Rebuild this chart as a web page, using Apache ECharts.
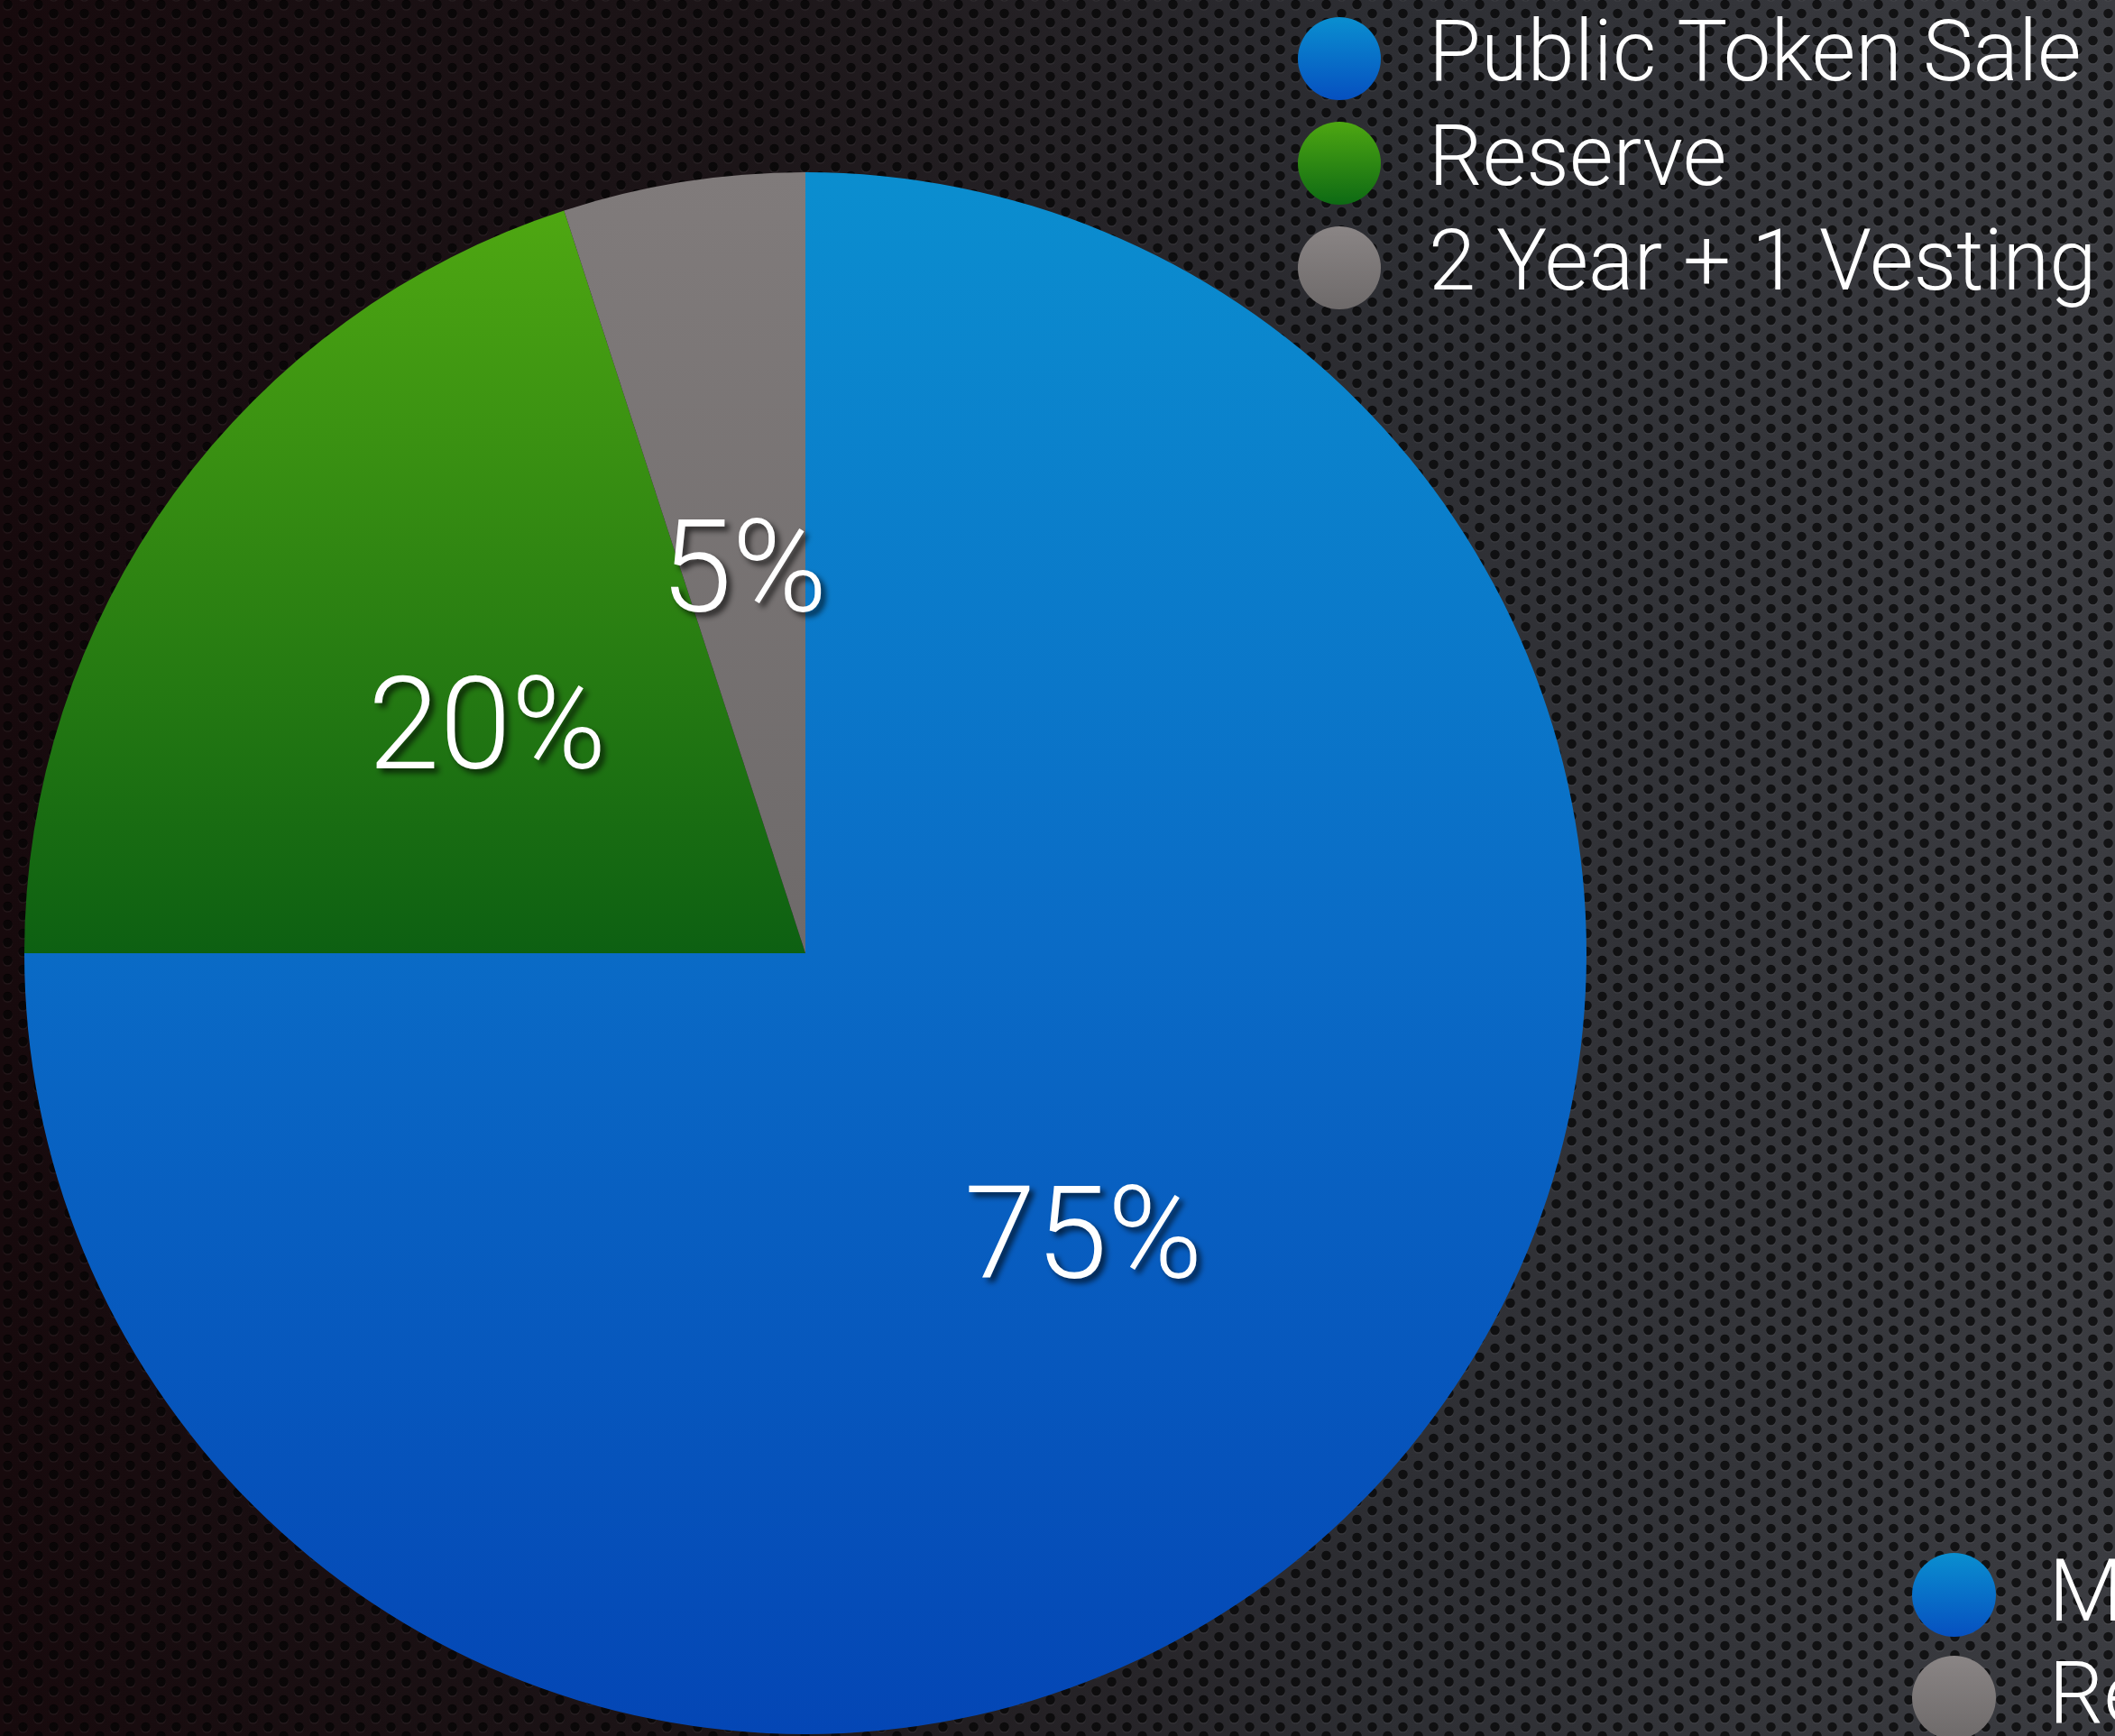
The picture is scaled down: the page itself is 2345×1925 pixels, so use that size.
<!DOCTYPE html>
<html>
<head>
<meta charset="utf-8">
<title>Token Distribution</title>
<script src="https://cdn.jsdelivr.net/npm/echarts@6/dist/echarts.min.js"></script>
<style>
    html, body { margin: 0; padding: 0; background: #0e0507; overflow: hidden; }
    #chart { width: 2345px; height: 1925px; }
</style>
</head>
<body>
<div id="chart"></div>
<script>
// Chart data
const categories = ['Public Token Sale', 'Reserve', '2 Year + 1 Vesting'];
const shares = [75, 20, 5];
// second legend, cut off by the right edge of the slide
const clippedLegend = ['M', 'Re'];

const FONT = 'Roboto, "Helvetica Neue", "Liberation Sans", sans-serif';

// slice fills (global, over the whole pie height)
function sliceFill(stops) {
    return {
        type: 'linear', x: 0, y: 191, x2: 0, y2: 1923, global: true,
        colorStops: stops.map(s => ({ offset: s[0], color: s[1] }))
    };
}
// small local gradient for the legend dots
function dotFill(top, bottom) {
    return {
        type: 'linear', x: 0, y: 0, x2: 0, y2: 1,
        colorStops: [{ offset: 0, color: top }, { offset: 1, color: bottom }]
    };
}

const sliceColors = [
    sliceFill([[0, '#0b8ecf'], [0.5, '#0a6bc6'], [1, '#0446b5']]),
    sliceFill([[0, '#52ab12'], [0.5, '#0d6012'], [1, '#04400a']]),
    sliceFill([[0, '#807b7b'], [0.5, '#6e6a6a'], [1, '#5c5858']])
];
const dotColors = [
    dotFill('#0a8fd0', '#0650c0'),
    dotFill('#4ea712', '#0d6a14'),
    dotFill('#8a8585', '#6e6a6a')
];

// Perforated metal texture
function makeHolePattern() {
    const c = document.createElement('canvas');
    c.width = 34;
    c.height = 20;
    const ctx = c.getContext('2d');
    const holes = [[8.5, 5], [25.5, 15]];
    holes.forEach(h => {
        [-34, 0, 34].forEach(dx => {
            [-20, 0, 20].forEach(dy => {
                ctx.beginPath();
                ctx.fillStyle = 'rgba(255,255,255,0.05)';
                ctx.arc(h[0] + dx, h[1] + dy + 1.2, 5.6, 0, Math.PI * 2);
                ctx.fill();
                ctx.beginPath();
                ctx.fillStyle = 'rgba(0,0,0,0.72)';
                ctx.arc(h[0] + dx, h[1] + dy, 5.3, 0, Math.PI * 2);
                ctx.fill();
            });
        });
    });
    return c;
}

const chart = echarts.init(document.getElementById('chart'));

const textShadow = {
    textShadowColor: 'rgba(0, 0, 0, 0.65)',
    textShadowBlur: 6,
    textShadowOffsetX: 5,
    textShadowOffsetY: 5
};

const option = {
    animation: false,
    backgroundColor: '#0e0507',
    graphic: [
        {
            type: 'rect', z: -10, silent: true,
            shape: { x: 0, y: 0, width: 2345, height: 1925 },
            style: {
                fill: {
                    type: 'linear', x: 0, y: 0, x2: 1, y2: 0,
                    colorStops: [
                        { offset: 0, color: '#170a0d' },
                        { offset: 0.35, color: '#1c1518' },
                        { offset: 0.65, color: '#2d2e33' },
                        { offset: 1, color: '#3b3c41' }
                    ]
                }
            }
        },
        {
            type: 'rect', z: -9, silent: true,
            shape: { x: 0, y: 0, width: 2345, height: 1925 },
            style: { fill: { image: makeHolePattern(), repeat: 'repeat' } }
        },
        // clipped legend at bottom right
        {
            type: 'group', left: 2120, top: 1722,
            children: clippedLegend.map((name, i) => ({
                type: 'group',
                y: i * 114,
                children: [
                    {
                        type: 'circle',
                        shape: { cx: 46, cy: 46, r: 46.5 },
                        style: { fill: i === 0 ? dotColors[0] : dotColors[2] }
                    },
                    {
                        type: 'text',
                        style: {
                            x: 151, y: 50, text: name,
                            fill: '#ffffff', font: '300 96px ' + FONT,
                            verticalAlign: 'middle'
                        }
                    }
                ]
            }))
        }
    ],
    legend: {
        orient: 'vertical',
        left: 1434,
        top: 13,
        icon: 'circle',
        itemWidth: 92,
        itemHeight: 92,
        itemGap: 22,
        data: categories.map((name, i) => ({ name: name, itemStyle: { color: dotColors[i] } })),
        textStyle: {
            color: '#ffffff',
            fontFamily: FONT,
            fontWeight: 300,
            fontSize: 94,
            lineHeight: 84,
            padding: [8, 0, 0, 48]
        }
    },
    series: [{
        type: 'pie',
        center: [893, 1057],
        radius: 866,
        startAngle: 90,
        clockwise: true,
        silent: true,
        label: {
            show: true,
            position: 'inside',
            formatter: '{c}%',
            color: '#ffffff',
            fontFamily: FONT,
            fontWeight: 300,
            fontSize: 143,
            offset: [0, 16],
            ...textShadow
        },
        labelLine: { show: false },
        itemStyle: { borderWidth: 0 },
        data: categories.map((name, i) => ({
            name: name,
            value: shares[i],
            itemStyle: { color: sliceColors[i] }
        }))
    }]
};

chart.setOption(option);
</script>
</body>
</html>
